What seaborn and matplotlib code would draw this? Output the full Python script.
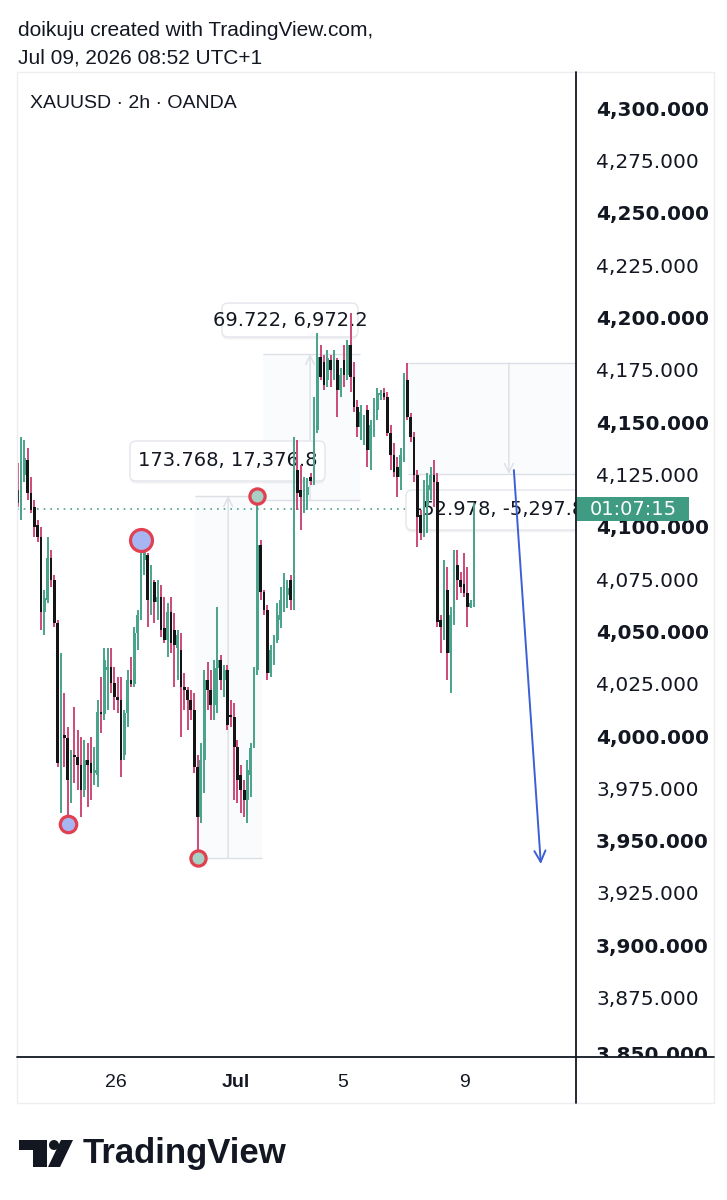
import matplotlib
matplotlib.use('Agg')
import matplotlib.pyplot as plt
import matplotlib.patches as mpatches
from matplotlib.transforms import blended_transform_factory
import numpy as np
import pandas as pd
import seaborn as sns

sns.set_style('white')
plt.rcParams['font.family'] = ['DejaVu Sans']

# XAUUSD 2h candles
opens = [
    4118.5, 4111.3, 4125.6, 4132.8, 4117.0, 4110.4, 4101.8, 4096.0, 4060.2, 4065.9,
    4086.0, 4075.5, 4054.9, 3989.5, 4001.4, 4000.0, 3979.9, 3991.9, 3990.9, 3987.1,
    3975.2, 3989.5, 3988.1, 3983.3, 3982.3, 4012.4, 4011.5, 4032.5, 4033.9, 4026.3,
    4019.6, 4018.2, 3991.9, 4011.9, 4027.7, 4025.8, 4050.2, 4058.8, 4085.0, 4087.4,
    4065.9, 4074.5, 4065.0, 4067.4, 4052.6, 4046.8, 4060.2, 4051.6, 4043.0, 4042.0,
    4024.4, 4022.9, 4018.2, 4013.4, 3986.2, 3962.3, 3989.5, 4027.7, 4022.9, 4015.8,
    4033.4, 4037.3, 4027.7, 4032.5, 4011.0, 4010.0, 3995.7, 3982.3, 3975.2, 3970.4,
    3982.3, 3996.7, 4032.5, 4092.2, 4069.7, 4061.1, 4031.1, 4039.7, 4046.8, 4056.4,
    4063.5, 4068.3, 4075.5, 4065.9, 4128.0, 4118.5, 4111.3, 4116.1, 4124.7, 4122.8,
    4147.1, 4182.0, 4179.6, 4171.0, 4180.6, 4175.8, 4180.6, 4166.2, 4180.6, 4173.4,
    4187.7, 4172.5, 4158.1, 4148.6, 4143.8, 4156.7, 4137.6, 4148.6, 4156.7, 4163.9,
    4164.8, 4162.9, 4145.7, 4135.2, 4129.5, 4124.7, 4132.8, 4171.0, 4153.3, 4143.8,
    4125.6, 4106.5, 4097.9, 4111.3, 4118.5, 4125.6, 4122.3, 4056.4, 4053.0, 4070.7,
    4040.6, 4058.8, 4082.7, 4075.5, 4073.6, 4069.3, 4062.6, 4064.5,
]
highs = [
    4131.4, 4143.8, 4142.4, 4138.5, 4124.7, 4113.7, 4104.1, 4100.8, 4070.7, 4096.0,
    4089.8, 4077.9, 4056.4, 4040.6, 4021.5, 4005.3, 3994.3, 4014.8, 4003.8, 4000.5,
    3999.0, 3997.6, 4000.5, 3995.7, 4018.2, 4029.1, 4043.0, 4043.0, 4043.0, 4033.9,
    4029.1, 4029.1, 4013.4, 4032.5, 4038.7, 4053.0, 4061.1, 4094.6, 4091.2, 4088.4,
    4082.7, 4075.5, 4075.5, 4073.1, 4067.4, 4064.5, 4067.4, 4059.7, 4051.6, 4050.2,
    4031.1, 4024.4, 4022.9, 4021.5, 3991.9, 3997.6, 4032.5, 4036.3, 4032.5, 4037.3,
    4062.6, 4039.7, 4034.9, 4034.9, 4018.2, 4016.7, 3999.0, 3987.1, 3979.9, 3989.5,
    3997.6, 4033.9, 4115.6, 4094.6, 4070.7, 4063.5, 4044.4, 4049.2, 4064.5, 4072.1,
    4078.8, 4075.5, 4077.9, 4143.8, 4142.4, 4130.4, 4124.7, 4124.2, 4126.6, 4162.9,
    4193.5, 4187.7, 4183.0, 4185.3, 4183.0, 4185.3, 4181.5, 4176.8, 4187.7, 4190.1,
    4203.0, 4179.6, 4161.5, 4159.1, 4154.3, 4159.1, 4151.9, 4162.4, 4167.2, 4166.2,
    4167.2, 4165.3, 4149.5, 4140.9, 4134.2, 4138.5, 4174.4, 4179.1, 4155.3, 4146.2,
    4128.0, 4108.9, 4123.2, 4126.6, 4129.5, 4132.8, 4126.6, 4058.8, 4085.0, 4081.7,
    4062.6, 4089.8, 4089.8, 4079.3, 4088.4, 4081.7, 4065.9, 4112.3,
]
lows = [
    4110.4, 4104.1, 4122.3, 4113.7, 4107.5, 4096.0, 4093.6, 4051.6, 4049.2, 4064.5,
    4072.1, 4053.0, 3986.2, 3964.2, 3986.2, 3958.9, 3969.0, 3978.5, 3975.2, 3962.3,
    3971.8, 3967.0, 3970.4, 3977.6, 3976.6, 4002.4, 4008.6, 4013.4, 4021.5, 4013.4,
    4011.9, 3981.4, 3989.5, 4005.3, 4024.4, 4024.4, 4042.0, 4056.4, 4077.9, 4053.0,
    4058.8, 4054.9, 4056.4, 4048.3, 4045.4, 4038.7, 4040.6, 4024.4, 4027.7, 4000.5,
    4013.4, 4003.8, 4008.6, 3983.3, 3942.7, 3959.4, 3973.7, 4013.4, 4008.6, 4008.6,
    4011.9, 4022.9, 4019.6, 4003.8, 4005.3, 3970.4, 3969.0, 3964.2, 3962.3, 3959.4,
    3971.8, 3995.2, 4030.1, 4065.9, 4058.8, 4027.7, 4029.1, 4034.9, 4045.4, 4052.6,
    4060.2, 4062.1, 4061.1, 4061.1, 4108.9, 4099.4, 4107.5, 4108.9, 4120.9, 4120.9,
    4145.7, 4171.0, 4166.2, 4167.7, 4167.7, 4171.0, 4153.3, 4162.9, 4167.7, 4171.0,
    4165.3, 4155.7, 4143.8, 4142.4, 4140.0, 4129.5, 4128.0, 4143.8, 4151.9, 4161.5,
    4161.5, 4144.3, 4128.0, 4124.7, 4115.1, 4118.5, 4131.8, 4151.9, 4141.4, 4122.3,
    4091.2, 4094.6, 4096.0, 4097.9, 4113.7, 4110.4, 4053.0, 4040.6, 4046.8, 4027.7,
    4021.5, 4054.0, 4065.9, 4069.3, 4067.4, 4053.0, 4062.1, 4062.6,
]
closes = [
    4112.3, 4128.0, 4133.8, 4117.0, 4108.9, 4100.8, 4096.0, 4060.2, 4066.9, 4086.0,
    4075.5, 4054.9, 3988.1, 4001.4, 4000.0, 3979.9, 3991.9, 3990.9, 3987.1, 3975.2,
    3989.5, 3987.1, 3983.3, 3984.7, 4012.4, 4011.5, 4037.3, 4033.9, 4026.3, 4019.6,
    4018.2, 3989.5, 4011.9, 4027.7, 4025.8, 4050.2, 4058.8, 4085.0, 4088.9, 4065.9,
    4074.5, 4065.0, 4067.4, 4051.6, 4046.8, 4060.2, 4045.4, 4044.4, 4049.2, 4024.4,
    4022.9, 4018.2, 4013.4, 3986.2, 3962.3, 3989.5, 4027.7, 4022.9, 4015.8, 4033.4,
    4037.3, 4027.7, 4032.5, 4006.2, 4010.0, 3995.7, 3979.9, 3975.2, 3970.4, 3984.7,
    3995.2, 4032.5, 4092.2, 4069.7, 4061.1, 4031.1, 4042.0, 4046.8, 4058.8, 4065.9,
    4073.1, 4071.7, 4065.9, 4132.8, 4117.0, 4115.1, 4120.9, 4119.9, 4122.8, 4147.1,
    4182.0, 4172.5, 4168.6, 4181.5, 4175.8, 4183.0, 4166.2, 4173.4, 4173.4, 4187.7,
    4172.5, 4158.1, 4148.6, 4155.7, 4151.9, 4137.6, 4149.5, 4159.1, 4164.8, 4164.8,
    4162.9, 4145.7, 4135.2, 4127.1, 4124.7, 4135.2, 4168.6, 4153.3, 4143.8, 4125.6,
    4105.6, 4097.9, 4118.5, 4120.9, 4125.6, 4122.3, 4055.4, 4053.0, 4070.7, 4040.6,
    4058.8, 4082.7, 4075.5, 4072.1, 4069.3, 4062.6, 4064.5, 4109.4,
]

price_ticks = [4300, 4275, 4250, 4225, 4200, 4175, 4150, 4125, 4100, 4075,
               4050, 4025, 4000, 3975, 3950, 3925, 3900, 3875, 3850]
time_ticks = [29.5, 65.6, 97.7, 134.3]
time_labels = ['26', 'Jul', '5', '9']

# marked swing points (candle index)
swing_low_a = 15
swing_high_a = 37
swing_low_b = 54
swing_high_b = 72

# price range tools
range1_text = '173.768, 17,376.8'
range2_lo, range2_hi = 4113.7, 4183.4
range2_text = '69.722, 6,972.2'
range3_hi, range3_lo = 4179.2, 4126.2
range3_text = '-52.978, -5,297.8'
target_from, target_to = 4128.0, 3939.8
countdown = '01:07:15'

UP = '#4aa38a'
DOWN_WICK = '#cc4a78'
DOWN_BODY = '#141414'
INK = '#131722'
TOOL = '#dcdfe5'

df = pd.DataFrame({'open': opens, 'high': highs, 'low': lows, 'close': closes})
df['i'] = np.arange(len(df))
df['up'] = df['close'] >= df['open']

W, H = 727, 1200
fig = plt.figure(figsize=(W / 100, H / 100), dpi=100)


def fig_box(x0, y0, x1, y1):
    return [x0 / W, 1 - y1 / H, (x1 - x0) / W, (y1 - y0) / H]


ax = fig.add_axes(fig_box(17, 72, 576, 1057))
pax = fig.add_axes(fig_box(576, 72, 714, 1057))
ax.set_xlim(-0.21, 167.66)
ax.set_ylim(3847.6, 4318.2)
for s in ax.spines.values():
    s.set_visible(False)

# candles
wick_col = np.where(df['up'], UP, DOWN_WICK)
body_col = np.where(df['up'], UP, DOWN_BODY)
ax.vlines(df['i'], df['low'], df['high'], colors=wick_col, lw=1.4, zorder=5)
body_lo = df[['open', 'close']].min(axis=1)
body_h = (df['close'] - df['open']).abs().clip(lower=1.0)
ax.bar(df['i'], body_h, bottom=body_lo, width=0.82, color=body_col,
       linewidth=0, zorder=6)

# last price line
last = closes[-1]
ax.axhline(last, color=UP, lw=1.2, ls=(0, (1, 3)), zorder=2)


def range_tool(x0, x1, xm, lo, hi, up=True):
    ax.add_patch(mpatches.Rectangle((x0, lo), x1 - x0, hi - lo, fc='#fafbfc',
                                    ec='none', zorder=1))
    ax.hlines([lo, hi], x0, x1, color=TOOL, lw=1, zorder=2)
    a, b = (lo, hi) if up else (hi, lo)
    ax.annotate('', xy=(xm, b), xytext=(xm, a), zorder=2,
                arrowprops=dict(arrowstyle='->', color=TOOL, lw=1,
                                mutation_scale=16, shrinkA=0, shrinkB=0))


def label_box(x0, x1, y0, y1, text, tx, ha='center'):
    sh = mpatches.FancyBboxPatch((x0, y0 - 1.2), x1 - x0, y1 - y0,
                                 boxstyle='round,pad=0,rounding_size=1.8',
                                 mutation_aspect=1.59, fc=(0, 0, 0, 0.05),
                                 ec='none', zorder=2.8)
    bx = mpatches.FancyBboxPatch((x0, y0), x1 - x0, y1 - y0,
                                 boxstyle='round,pad=0,rounding_size=1.8',
                                 mutation_aspect=1.59, fc='white',
                                 ec='#e3e6ec', lw=1, zorder=3)
    ax.add_patch(sh)
    ax.add_patch(bx)
    ax.text(tx, (y0 + y1) / 2, text, fontsize=14, color=INK, ha=ha,
            va='center', zorder=4, clip_on=True)


r1_lo, r1_hi = lows[swing_low_b], highs[swing_high_b]
range_tool(53.2, 73.4, 63.2, r1_lo, r1_hi)
label_box(33.7, 92.3, 4122.8, 4141.9, range1_text, 63.0)

range_tool(73.7, 102.8, 87.8, range2_lo, range2_hi)
label_box(61.3, 102.2, 4191.6, 4207.8, range2_text, 81.8)

range_tool(117.2, 172.0, 147.5, range3_lo, range3_hi, up=False)
label_box(116.6, 174.9, 4099.4, 4118.5, range3_text, 119.3, ha='left')

# projected move
ax.annotate('', xy=(157.1, target_to), xytext=(149.0, target_from), zorder=7,
            arrowprops=dict(arrowstyle='->', color='#3d5fd6', lw=1.4,
                            mutation_scale=20, shrinkA=0, shrinkB=0))

# swing markers
pts = pd.DataFrame({'i': [swing_low_a, swing_high_a, swing_low_b, swing_high_b],
                    'p': [lows[swing_low_a], highs[swing_high_a],
                          lows[swing_low_b], highs[swing_high_b]]})
sns.scatterplot(data=pts.iloc[[1]], x='i', y='p', s=250, color='#a7b5f3',
                edgecolor='#e0404f', linewidth=2.3, ax=ax, zorder=8, legend=False)
sns.scatterplot(data=pts.iloc[[0]], x='i', y='p', s=140, color='#a7b5f3',
                edgecolor='#e0404f', linewidth=2.3, ax=ax, zorder=8, legend=False)
sns.scatterplot(data=pts.iloc[[2, 3]], x='i', y='p', s=120, color='#a6d1c4',
                edgecolor='#e0404f', linewidth=2.3, ax=ax, zorder=8, legend=False)

ax.set_xlabel('')
ax.set_ylabel('')
ax.set_yticks([])
ax.set_xticks(time_ticks)
ax.set_xticklabels(time_labels, fontsize=14, color=INK, family='Liberation Sans')
ax.tick_params(axis='x', length=0, pad=12)
ax.get_xticklabels()[1].set_fontweight('bold')

# price scale
pax.set_xlim(0, 1)
pax.set_ylim(ax.get_ylim())
pax.axis('off')
for p in price_ticks:
    pax.text(0.145, p - (1.5 if p == 3850 else 0), f'{p:,.3f}', fontsize=14.5,
             color=INK, ha='left', va='center',
             fontweight='bold' if p % 50 == 0 else 'normal', clip_on=True)
trans = blended_transform_factory(pax.transAxes, pax.transData)
pax.add_patch(mpatches.Rectangle((0.007, last - 5.7), 0.812, 11.4, transform=trans,
                                 fc='#3f9c82', ec='none', zorder=3))
pax.text(0.413, last, countdown, transform=trans, color='white', fontsize=14,
         ha='center', va='center', zorder=4)

# frame, header and logo in pixel space
deco = fig.add_axes([0, 0, 1, 1], zorder=10)
deco.set_xlim(0, W)
deco.set_ylim(H, 0)
deco.axis('off')
deco.patch.set_alpha(0)
deco.add_patch(mpatches.Rectangle((17, 72), 697, 1031, fc='none', ec='#eceef2', lw=1))
deco.plot([576, 576], [72, 1103], color=INK, lw=1.3)
deco.plot([17, 714], [1057, 1057], color=INK, lw=1.3)

deco.text(18, 30, 'doikuju created with TradingView.com,', fontsize=15, color=INK,
          va='center', family='Liberation Sans')
deco.text(18, 58, 'Jul 09, 2026 08:52 UTC+1', fontsize=15, color=INK,
          va='center', family='Liberation Sans')
deco.text(30, 103, 'XAUUSD · 2h · OANDA', fontsize=14, color=INK,
          va='center', family='Liberation Sans')

deco.add_patch(mpatches.Rectangle((19, 1140), 28, 10, fc=INK, ec='none'))
deco.add_patch(mpatches.Rectangle((33, 1140), 14, 27, fc=INK, ec='none'))
deco.add_patch(mpatches.Circle((54, 1145), 5, fc=INK, ec='none'))
deco.add_patch(mpatches.Polygon([(61, 1140), (73, 1140), (60, 1167), (48, 1167)],
                                closed=True, fc=INK, ec='none'))
deco.text(83, 1154, 'TradingView', fontsize=25, fontweight='bold', color=INK,
          va='center', family='Liberation Sans')

fig.savefig('out.png', dpi=100, facecolor='white')
